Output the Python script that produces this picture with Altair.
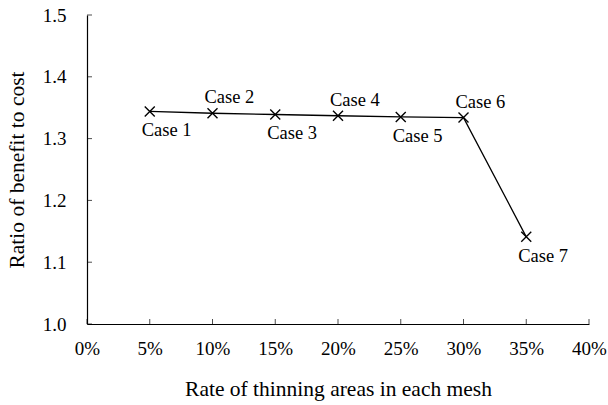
import altair as alt
import pandas as pd

# Benefit/cost ratio for each thinning case
cases = ["Case 1", "Case 2", "Case 3", "Case 4", "Case 5", "Case 6", "Case 7"]
rates = [0.05, 0.10, 0.15, 0.20, 0.25, 0.30, 0.35]
ratios = [1.344, 1.341, 1.339, 1.337, 1.335, 1.334, 1.141]
label_side = ["below", "above", "below", "above", "below", "above", "below"]

# Axis tick values
x_ticks = [0.0, 0.05, 0.10, 0.15, 0.20, 0.25, 0.30, 0.35, 0.40]
y_ticks = [1.0, 1.1, 1.2, 1.3, 1.4, 1.5]

FONT = "Liberation Serif"

df = pd.DataFrame({"case": cases, "rate": rates, "ratio": ratios, "side": label_side})
xtick_df = pd.DataFrame({"rate": x_ticks, "ratio": [y_ticks[0]] * len(x_ticks)})
ytick_df = pd.DataFrame({"rate": [x_ticks[0]] * len(y_ticks), "ratio": y_ticks})

x_enc = alt.X(
    "rate:Q",
    scale=alt.Scale(domain=[0, 0.4], nice=False, zero=False),
    axis=alt.Axis(
        values=x_ticks, format=".0%", title="Rate of thinning areas in each mesh",
        ticks=False, grid=False, labelFlush=False, labelOverlap=False,
        labelPadding=15, labelFontSize=19, labelFont=FONT, labelColor="black",
        titleFont=FONT, titleFontSize=21.5, titleFontWeight="normal", titleColor="black",
        titleY=71, titleBaseline="alphabetic",
    ),
)
y_enc = alt.Y(
    "ratio:Q",
    scale=alt.Scale(domain=[1.0, 1.5], nice=False, zero=False),
    axis=alt.Axis(
        values=y_ticks, format=".1f", title="Ratio of benefit to cost",
        ticks=False, grid=False, labelFlush=False, labelOverlap=False,
        labelPadding=21, labelFontSize=19, labelFont=FONT, labelColor="black",
        titleFont=FONT, titleFontSize=21.5, titleFontWeight="normal", titleColor="black",
        titleX=-64, titleY=154.5, titleAngle=-90,
        titleAlign="center", titleBaseline="alphabetic",
    ),
)

base = alt.Chart(df)

line = base.mark_line(color="black", strokeWidth=1.3).encode(x=x_enc, y=y_enc)

points = base.mark_point(
    shape="M-1,-1L1,1M1,-1L-1,1", size=100, filled=False,
    color="black", strokeWidth=1.4, opacity=1,
).encode(x=x_enc, y=y_enc)

labels_below = base.transform_filter(alt.datum.side == "below").mark_text(
    align="left", baseline="alphabetic", dx=-8, dy=25,
    font=FONT, fontSize=18.5, color="black",
).encode(x=x_enc, y=y_enc, text="case:N")

labels_above = base.transform_filter(alt.datum.side == "above").mark_text(
    align="left", baseline="alphabetic", dx=-8, dy=-10,
    font=FONT, fontSize=18.5, color="black",
).encode(x=x_enc, y=y_enc, text="case:N")

# Inward-pointing tick marks along both axes
xticks = alt.Chart(xtick_df).mark_tick(
    orient="vertical", size=5, thickness=1, color="black", yOffset=-2.5
).encode(x=x_enc, y=y_enc)
yticks = alt.Chart(ytick_df).mark_tick(
    orient="horizontal", size=5, thickness=1, color="black", xOffset=2.5
).encode(x=x_enc, y=y_enc)

chart = (
    alt.layer(line, points, labels_below, labels_above, xticks, yticks)
    .properties(
        width=502, height=309,
        autosize=alt.AutoSizeParams(type="none"),
        padding={"left": 87, "top": 15, "right": 19, "bottom": 81},
        background="white",
    )
    .configure_view(stroke=None)
    .configure_axis(domainColor="black", domainWidth=1.2)
)

chart.save("out.html", embed_options={"renderer": "svg", "actions": False})
